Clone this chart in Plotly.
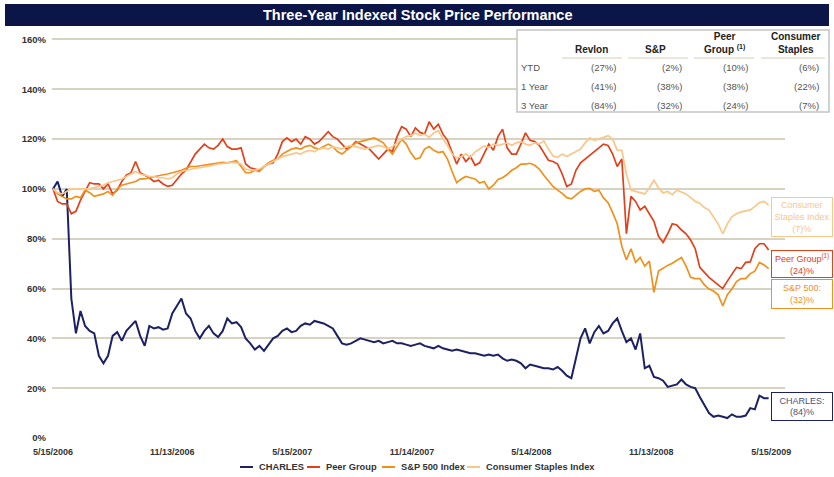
import plotly.graph_objects as go
import pandas as pd

# ---------------- data ----------------
START_DATE = "2006-05-15"
N_WEEKS = 157
dates = pd.date_range(START_DATE, periods=N_WEEKS, freq="7D")

charles = [100, 103, 97, 100, 56, 42, 51, 45, 43, 42, 33, 30, 33, 41, 42.5, 39, 43, 45, 47, 41,
           37, 45, 44, 44.5, 43.5, 44, 50, 53, 56, 50, 48, 43, 40, 43, 45, 42, 40.5, 43, 48, 46,
           46.5, 44.5, 40, 38, 35.5, 37, 35, 37.5, 40, 41, 43, 44, 42.5, 43, 45, 46, 45.5, 47, 46.5, 46,
           45, 44, 41, 38, 37.5, 38, 39, 40, 39.5, 39, 38.5, 39, 38, 38.5, 39, 38, 38, 37.5, 37, 37.5,
           38, 37, 36.5, 36, 37, 36, 35.5, 35, 35.5, 35, 34.5, 34, 34, 33.5, 33, 33.5, 33, 33.5, 32, 31,
           31.5, 31, 30, 28, 29.5, 29, 28.5, 28, 28, 27.5, 28.5, 27, 25, 24, 32, 40, 44, 38, 42.5, 45,
           42, 43, 46, 48, 43, 38.5, 40, 35.5, 42, 28, 29, 24.5, 24, 23, 20.5, 21, 21.5, 23.5, 21.5, 20.5,
           20, 16.5, 13, 10, 8.5, 9, 8.5, 8, 9.5, 8.5, 8.5, 9, 12, 11.5, 17, 16, 16]

peer_group = [100, 95, 94, 94, 90, 91, 95.5, 99, 102.5, 102, 102, 100, 102, 98, 99.5, 103, 105.5, 106.5, 111, 106.5,
              105.5, 104.5, 103, 103.5, 102, 101, 101.5, 104, 106, 107.5, 111, 114, 116, 118, 116.5, 116, 117.5, 120, 117, 116,
              116, 116.5, 110, 108.5, 108, 107.5, 109, 110, 110.5, 114, 119, 120.5, 119, 120, 118, 121, 120, 118, 119, 121,
              123, 121, 120, 118, 116, 117, 119, 118, 117, 116, 114, 112, 114, 116, 115, 121, 125, 124, 121, 124.5,
              122.7, 122, 127, 124, 126, 122, 119.5, 114.6, 110, 114, 111, 113, 109.5, 110.5, 114, 118, 115.5, 121, 124, 116.5,
              114, 114, 118, 122.5, 119.5, 119, 117.5, 114.5, 111.5, 111, 110, 106, 101, 102, 107.5, 110.5, 112, 113.5, 115, 116.5,
              118, 117.5, 114, 109, 112, 82, 97, 95, 91.6, 93, 90, 87, 81, 78.5, 82, 86, 85.5, 83.5, 82, 79.5,
              76, 68.5, 66.5, 64.5, 63, 61.3, 60, 63, 65.5, 68.5, 68, 70.5, 70.7, 76, 78, 78, 75.5]

sp500 = [100, 98, 97, 96, 96, 97, 96.5, 99.5, 98.5, 97, 97.5, 98, 99, 97.5, 100, 101.5, 102, 102.5, 103, 104,
         104, 104.5, 105, 105.5, 105.7, 106, 106.5, 106.8, 107.5, 108.3, 109, 109, 109.3, 109.5, 109.6, 110, 110.5, 110.7, 110.5, 111,
         111.3, 109, 106.5, 106.5, 107.5, 107, 109, 110.5, 111.5, 112, 114, 115, 116, 116.5, 116, 117, 117.5, 116.5, 116, 117,
         118, 117, 115, 114, 115.5, 117, 118.5, 119, 119.5, 120, 120.5, 119.5, 118.5, 116, 114, 117, 120, 118, 114.5, 112,
         112.5, 116, 117, 115.5, 114.6, 115, 112, 107, 102.5, 104, 105, 104.5, 104, 102.4, 103, 100, 101.5, 103.8, 104.5, 105.8,
         107.5, 108.5, 110, 110, 110.3, 109.5, 108, 105.5, 103, 101, 99.5, 98.2, 96.5, 96, 97.5, 99, 100, 100.2, 99, 99.5,
         96.4, 94.5, 90.5, 86, 77, 71.5, 76, 70.5, 72.5, 69, 71, 58.5, 67, 68.3, 69.3, 70.2, 71.2, 72.5, 69, 64.5,
         64, 64, 61.5, 59.8, 59, 57.5, 53, 57.5, 59.8, 62.8, 64, 64, 66, 67, 70.5, 69.5, 68]

consumer_staples = [100, 98.5, 98, 99, 100, 100, 100, 100, 100, 100.5, 101, 101.5, 102.5, 103, 103.5, 104, 105, 106, 107, 106,
                    105.5, 105, 105, 104.5, 104.5, 104, 104.5, 106, 107, 107.5, 108, 108.3, 108.5, 108.8, 109, 109.5, 110, 110.2, 110.5, 110.7,
                    110.5, 110, 108, 107.5, 107.5, 108, 109, 110, 111, 112, 113, 113.5, 114, 114.5, 114, 115, 115.5, 115, 116, 116.5,
                    116, 117, 116.5, 116, 117, 117.5, 117, 116.5, 116, 116.5, 117, 117.5, 117, 116, 117, 118.5, 120, 121, 121.4, 122.5,
                    121.4, 122, 120.7, 122.5, 123.4, 120, 117.5, 114, 112.5, 113, 114, 112.8, 114.8, 116, 117.3, 116.6, 118, 117.4, 118, 118.5,
                    117.5, 118.5, 119, 118, 117.5, 118.5, 118, 119.3, 116, 113.2, 112.7, 114, 113, 114, 115, 116, 118.5, 120.5, 119.5, 120,
                    120.7, 121.4, 120, 115.6, 115.5, 106, 99.5, 99, 98.5, 98, 100.5, 103.5, 100.4, 98.4, 99, 97.7, 99.5, 98.6, 98, 96.5,
                    95, 94.3, 92.5, 91.5, 89, 86, 82, 86, 88.8, 90, 90.8, 91.3, 91.6, 93, 94.5, 95, 93.5]

SERIES_NAMES = ["CHARLES", "Peer Group", "S&P 500 Index", "Consumer Staples Index"]

TICK_DATES = ["2006-05-15", "2006-11-13", "2007-05-15", "2007-11-14",
              "2008-05-14", "2008-11-13", "2009-05-15"]
TICK_LABELS = ["5/15/2006", "11/13/2006", "5/15/2007", "11/14/2007",
               "5/14/2008", "11/13/2008", "5/15/2009"]
Y_TICKS = [0, 20, 40, 60, 80, 100, 120, 140, 160]
Y_LABELS = [f"{v}%" for v in Y_TICKS]

TITLE = "Three-Year Indexed Stock Price Performance"
TABLE_HEADERS = ["Revlon", "S&P", "Peer<br>Group <sup>(1)</sup>", "Consumer<br>Staples"]
TABLE_ROWS = ["YTD", "1 Year", "3 Year"]
TABLE_VALUES = [["(27%)", "(2%)", "(10%)", "(6%)"],
                ["(41%)", "(38%)", "(38%)", "(22%)"],
                ["(84%)", "(32%)", "(24%)", "(7%)"]]

END_LABELS = ["Consumer<br>Staples Index<br>(7)%", "Peer Group<sup>(1)</sup><br>(24)%",
              "S&P 500:<br>(32)%", "CHARLES:<br>(84)%"]

# ---------------- style ----------------
NAVY = "#1b2163"
RED = "#e2401c"
ORANGE = "#f0901e"
LIGHT = "#fbc68a"
BAR = "#0c1548"
GRID = "#d8d2c0"
FONT = "Arial, Liberation Sans, sans-serif"
COLORS = [NAVY, RED, ORANGE, LIGHT]
WIDTHS = [2, 1.7, 1.7, 1.7]

W, H = 834, 477
L, R, T, B = 52, 785, 38, 439


def px(x):
    return (x - L) / (R - L)


def py(y):
    return (B - y) / (B - T)


fig = go.Figure()
for name, vals, col, w in zip(SERIES_NAMES, [charles, peer_group, sp500, consumer_staples], COLORS, WIDTHS):
    fig.add_trace(go.Scatter(x=dates, y=vals, name=name, mode="lines",
                             line=dict(color=col, width=w), hoverinfo="skip", showlegend=False))

shapes = []
annotations = []

# title bar
shapes.append(dict(type="rect", xref="paper", yref="paper", x0=px(5), x1=px(829), y0=py(26), y1=py(4),
                   fillcolor=BAR, line=dict(width=0), layer="above"))
annotations.append(dict(xref="paper", yref="paper", x=px(417), y=py(15), text=f"<b>{TITLE}</b>",
                        showarrow=False, xanchor="center", yanchor="middle",
                        font=dict(family=FONT, size=14.5, color="white")))

# table box
shapes.append(dict(type="rect", xref="paper", yref="paper", x0=px(517), x1=px(829), y0=py(112), y1=py(30),
                   fillcolor="white", line=dict(color="#c4c4c4", width=1.5), layer="above"))
col_centers = [591, 655, 724, 796]
col_rights = [618, 684, 750, 821]
seg = [(562, 622), (628, 688), (694, 754), (761, 825)]
for (a, b2) in seg:
    shapes.append(dict(type="line", xref="paper", yref="paper", x0=px(a), x1=px(b2), y0=py(58), y1=py(58),
                       line=dict(color="#e4dfcf", width=1.5), layer="above"))
for hdr, cx in zip(TABLE_HEADERS, col_centers):
    annotations.append(dict(xref="paper", yref="paper", x=px(cx), y=py(57), text=f"<b>{hdr}</b>",
                            showarrow=False, xanchor="center", yanchor="bottom", align="center",
                            font=dict(family=FONT, size=10, color="#222222")))
row_y = [67, 86, 105]
for r, (lab, ry) in enumerate(zip(TABLE_ROWS, row_y)):
    annotations.append(dict(xref="paper", yref="paper", x=px(519), y=py(ry), text=lab,
                            showarrow=False, xanchor="left", yanchor="middle",
                            font=dict(family=FONT, size=9.5, color="#555555")))
    for c, cr in enumerate(col_rights):
        annotations.append(dict(xref="paper", yref="paper", x=px(cr), y=py(ry), text=TABLE_VALUES[r][c],
                                showarrow=False, xanchor="right", yanchor="middle",
                                font=dict(family=FONT, size=9.5, color="#555555")))

# end-of-line labels
end_cfg = [(217, 38, LIGHT, LIGHT), (263.5, 26, RED, RED), (293.5, 28, ORANGE, ORANGE),
           (406.5, 27, NAVY, "#4a4f7c")]
for text, (cy, hgt, bc, tc) in zip(END_LABELS, end_cfg):
    annotations.append(dict(xref="paper", yref="paper", x=px(801.5), y=py(cy), text=text,
                            showarrow=False, xanchor="center", yanchor="middle", align="center",
                            width=60, height=hgt, bgcolor="white", bordercolor=bc, borderwidth=1, borderpad=0,
                            font=dict(family=FONT, size=9, color=tc)))

# legend drawn as short line samples + text
legend_line_x = [(240, 253), (307, 320), (382, 395), (467, 480)]
legend_y = 467
for name, col, (a, b2) in zip(SERIES_NAMES, COLORS, legend_line_x):
    shapes.append(dict(type="line", xref="paper", yref="paper", x0=px(a), x1=px(b2),
                       y0=py(legend_y), y1=py(legend_y), line=dict(color=col, width=2)))
    annotations.append(dict(xref="paper", yref="paper", x=px(b2 + 4), y=py(legend_y), text=f"<b>{name}</b>",
                            showarrow=False, xanchor="left", yanchor="middle",
                            font=dict(family=FONT, size=9.3, color="#333333")))

fig.update_layout(
    width=W, height=H,
    margin=dict(l=L, r=W - R, t=T, b=H - B),
    paper_bgcolor="white", plot_bgcolor="white",
    showlegend=False,
    xaxis=dict(type="date", range=["2006-05-13 12:00", "2009-06-05"], tickvals=TICK_DATES, ticktext=TICK_LABELS,
               showgrid=False, zeroline=False, showline=False, ticks="", ticklabelstandoff=6,
               tickfont=dict(family=FONT, size=9, color="#333333", weight="bold")),
    yaxis=dict(range=[-0.4, 160.6], tickvals=Y_TICKS, ticktext=Y_LABELS, showgrid=True,
               gridcolor=GRID, gridwidth=2, zeroline=False, showline=False, ticks="", ticklabelstandoff=5,
               tickfont=dict(family=FONT, size=9.5, color="#333333", weight="bold")),
    shapes=shapes, annotations=annotations,
)

fig.write_html("out.html", config={"displayModeBar": False},
               post_script="document.body.style.margin='0';document.body.style.overflow='hidden';")
